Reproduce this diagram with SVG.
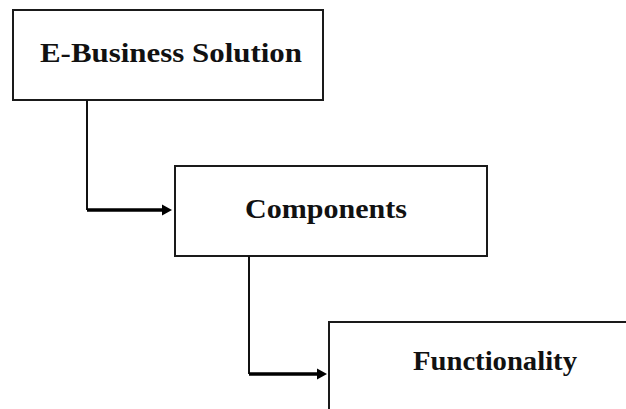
<svg xmlns="http://www.w3.org/2000/svg" width="626" height="409" viewBox="0 0 626 409">
<style>
.box{fill:#fff;stroke:#1a1a1a;stroke-width:2}
.lbl{font-family:"Liberation Serif","Times New Roman",serif;font-weight:bold;fill:#111;font-size:27px}
.v{stroke:#111;stroke-width:2;fill:none}
.h{stroke:#000;stroke-width:3.5;fill:none}
.ah{fill:#000}
</style>
<rect width="626" height="409" fill="#fff"/>
<g id="node-ebusiness">
<rect class="box" x="13" y="10" width="310" height="90"/>
<text class="lbl" x="40" y="62" textLength="262" lengthAdjust="spacingAndGlyphs">E-Business Solution</text>
</g>
<g id="node-components">
<rect class="box" x="175" y="166" width="312" height="90"/>
<text class="lbl" x="245" y="218" textLength="162" lengthAdjust="spacingAndGlyphs">Components</text>
</g>
<g id="node-functionality">
<rect class="box" x="329" y="322" width="310" height="100"/>
<text class="lbl" x="413" y="370" textLength="164" lengthAdjust="spacingAndGlyphs">Functionality</text>
</g>
<g id="connectors">
<path class="v" d="M87,100 V210"/>
<path class="h" d="M87,210 H164"/>
<polygon class="ah" points="162,204.5 172,210 162,215.5"/>
<path class="v" d="M249,256 V374"/>
<path class="h" d="M249,374 H319"/>
<polygon class="ah" points="317,368.5 327,374 317,379.5"/>
</g>
</svg>
